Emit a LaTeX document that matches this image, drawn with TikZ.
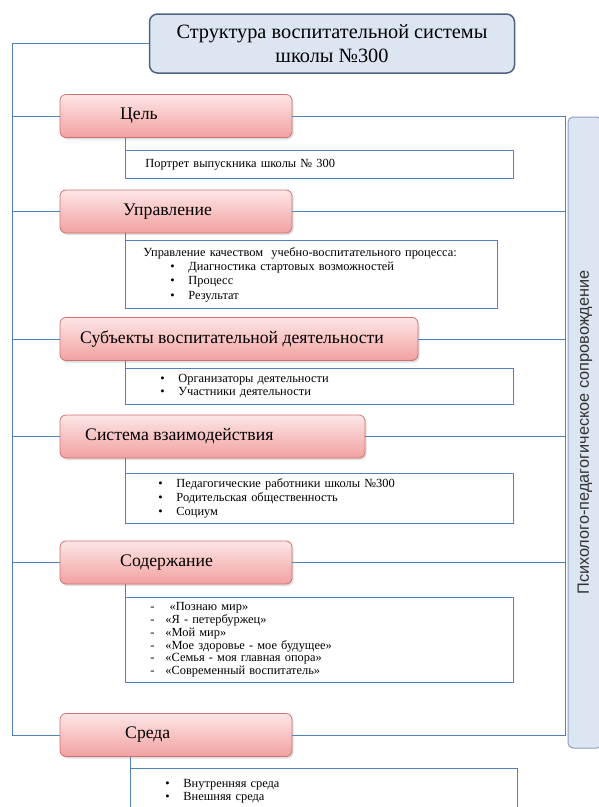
\documentclass[tikz,border=0pt]{standalone}
\usepackage{fontspec}
\setmainfont{Liberation Serif}
\newfontfamily\sidefont{Liberation Sans}
\usetikzlibrary{shadows}

\definecolor{linkblue}{RGB}{79,129,189}
\definecolor{titlefill}{RGB}{220,230,242}
\definecolor{titledraw}{RGB}{79,98,129}
\definecolor{redtop}{RGB}{253,230,230}
\definecolor{redbot}{RGB}{242,160,160}
\definecolor{reddraw}{RGB}{205,115,112}
\definecolor{sidedraw}{RGB}{140,160,190}
\definecolor{sidetext}{RGB}{50,50,50}

\newcommand\bul{\makebox[18pt][l]{•}}
\newcommand\dsh{\makebox[15pt][l]{-}}

\tikzset{
  link/.style={draw=linkblue, line width=0.9pt},
  titlebox/.style={draw=titledraw, line width=1.5pt, fill=titlefill, rounded corners=8pt,
    minimum width=365pt, minimum height=59pt, align=center, font=\fontsize{20.3}{24}\selectfont},
  redbox/.style={draw=reddraw, line width=0.8pt, top color=redtop, bottom color=redbot,
    rounded corners=6pt, minimum height=43pt, minimum width=#1,
    drop shadow={opacity=0.25, shadow xshift=1.5pt, shadow yshift=-2pt}},
  redlabel/.style={anchor=west, inner sep=0pt, font=\fontsize{17.7}{20}\selectfont},
  itembox/.style={link, fill=white, anchor=north west, inner xsep=0pt, inner ysep=0pt,
    text width=#1, minimum width=#1, align=left, font=\fontsize{12.4}{13.5}\selectfont},
  sidebox/.style={draw=sidedraw, line width=1pt, fill=titlefill, rounded corners=5pt,
    rotate=90, minimum width=631pt, minimum height=34pt, text=sidetext,
    font=\sidefont\fontsize{16.3}{18}\selectfont}
}

\begin{document}
\begin{tikzpicture}[x=1pt, y=-1pt]
    \useasboundingbox (0,0) rectangle (599,807);

    % Title
    \node[titlebox] (t) at (332,43.5) {Структура воспитательной системы\\школы №300};

    % Side box
    \node[sidebox] (ps) at (585,432.5) {Психолого-педагогическое сопровождение};

    % Red boxes
    \node[redbox=232pt] (cel) at (176,116) {};
    \node[redbox=232pt] (upr) at (176,211.5) {};
    \node[redbox=358pt] (subj) at (239,339) {};
    \node[redbox=305pt] (sist) at (212.5,436.5) {};
    \node[redbox=232pt] (sod) at (176,562.5) {};
    \node[redbox=232pt] (sreda) at (176,735) {};

    \node[redlabel] (lcel) at (120,116) {Цель};
    \node[redlabel] (lupr) at (123,211.5) {Управление};
    \node[redlabel] (lsubj) at (80,339) {Субъекты воспитательной деятельности};
    \node[redlabel] (lsist) at (85,436.5) {Система взаимодействия};
    \node[redlabel] (lsod) at (120,562.5) {Содержание};
    \node[redlabel] (lsreda) at (125,735) {Среда};

    % Item boxes
    \node[itembox=388pt, minimum height=28pt] (icel) at (125,150)
        {\hspace*{20pt}Портрет выпускника школы № 300};
    \node[itembox=372pt, minimum height=68pt, font=\fontsize{12.4}{14.3}\selectfont] (iupr) at (125,240)
        {\hspace*{18pt}Управление качеством\ \ учебно-воспитательного процесса:\\
         \hspace*{45pt}\bul Диагностика стартовых возможностей\\
         \hspace*{45pt}\bul Процесс\\
         \hspace*{45pt}\bul Результат};
    \node[itembox=388pt, minimum height=36pt, font=\fontsize{12.4}{13}\selectfont] (isubj) at (125,368)
        {\hspace*{35pt}\bul Организаторы деятельности\\
         \hspace*{35pt}\bul Участники деятельности};
    \node[itembox=388pt, minimum height=50pt, font=\fontsize{12.4}{14}\selectfont] (isist) at (125,473)
        {\hspace*{33pt}\bul Педагогические работники школы №300\\
         \hspace*{33pt}\bul Родительская общественность\\
         \hspace*{33pt}\bul Социум};
    \node[itembox=388pt, minimum height=85pt, font=\fontsize{12.4}{12.8}\selectfont] (isod) at (125,597)
        {\hspace*{25pt}\dsh\ «Познаю мир»\\
         \hspace*{25pt}\dsh«Я - петербуржец»\\
         \hspace*{25pt}\dsh«Мой мир»\\
         \hspace*{25pt}\dsh«Мое здоровье - мое будущее»\\
         \hspace*{25pt}\dsh«Семья - моя главная опора»\\
         \hspace*{25pt}\dsh«Современный воспитатель»};
    \node[itembox=387pt, minimum height=45pt, font=\fontsize{12.4}{13}\selectfont] (isreda) at (130,768)
        {\hspace*{35pt}\bul Внутренняя среда\\
         \hspace*{35pt}\bul Внешняя среда};

    % Left trunk
    \coordinate (lt) at (12,0);
    \draw[link] (t.west) -| (lt |- sreda.west) -- (sreda.west);
    \draw[link] (lt |- cel.west) -- (cel.west);
    \draw[link] (lt |- upr.west) -- (upr.west);
    \draw[link] (lt |- subj.west) -- (subj.west);
    \draw[link] (lt |- sist.west) -- (sist.west);
    \draw[link] (lt |- sod.west) -- (sod.west);

    % Right trunk
    \coordinate (rt) at (565,0);
    \draw[link] (cel.east) -| (rt |- sreda.east) -- (sreda.east);
    \draw[link] (upr.east) -- (rt |- upr.east);
    \draw[link] (subj.east) -- (rt |- subj.east);
    \draw[link] (sist.east) -- (rt |- sist.east);
    \draw[link] (sod.east) -- (rt |- sod.east);

    % Down links
    \draw[link] (cel.south -| icel.north west) -- (icel.north west);
    \draw[link] (upr.south -| iupr.north west) -- (iupr.north west);
    \draw[link] (subj.south -| isubj.north west) -- (isubj.north west);
    \draw[link] (sist.south -| isist.north west) -- (isist.north west);
    \draw[link] (sod.south -| isod.north west) -- (isod.north west);
    \draw[link] (sreda.south -| isreda.north west) -- (isreda.north west);
\end{tikzpicture}
\end{document}
